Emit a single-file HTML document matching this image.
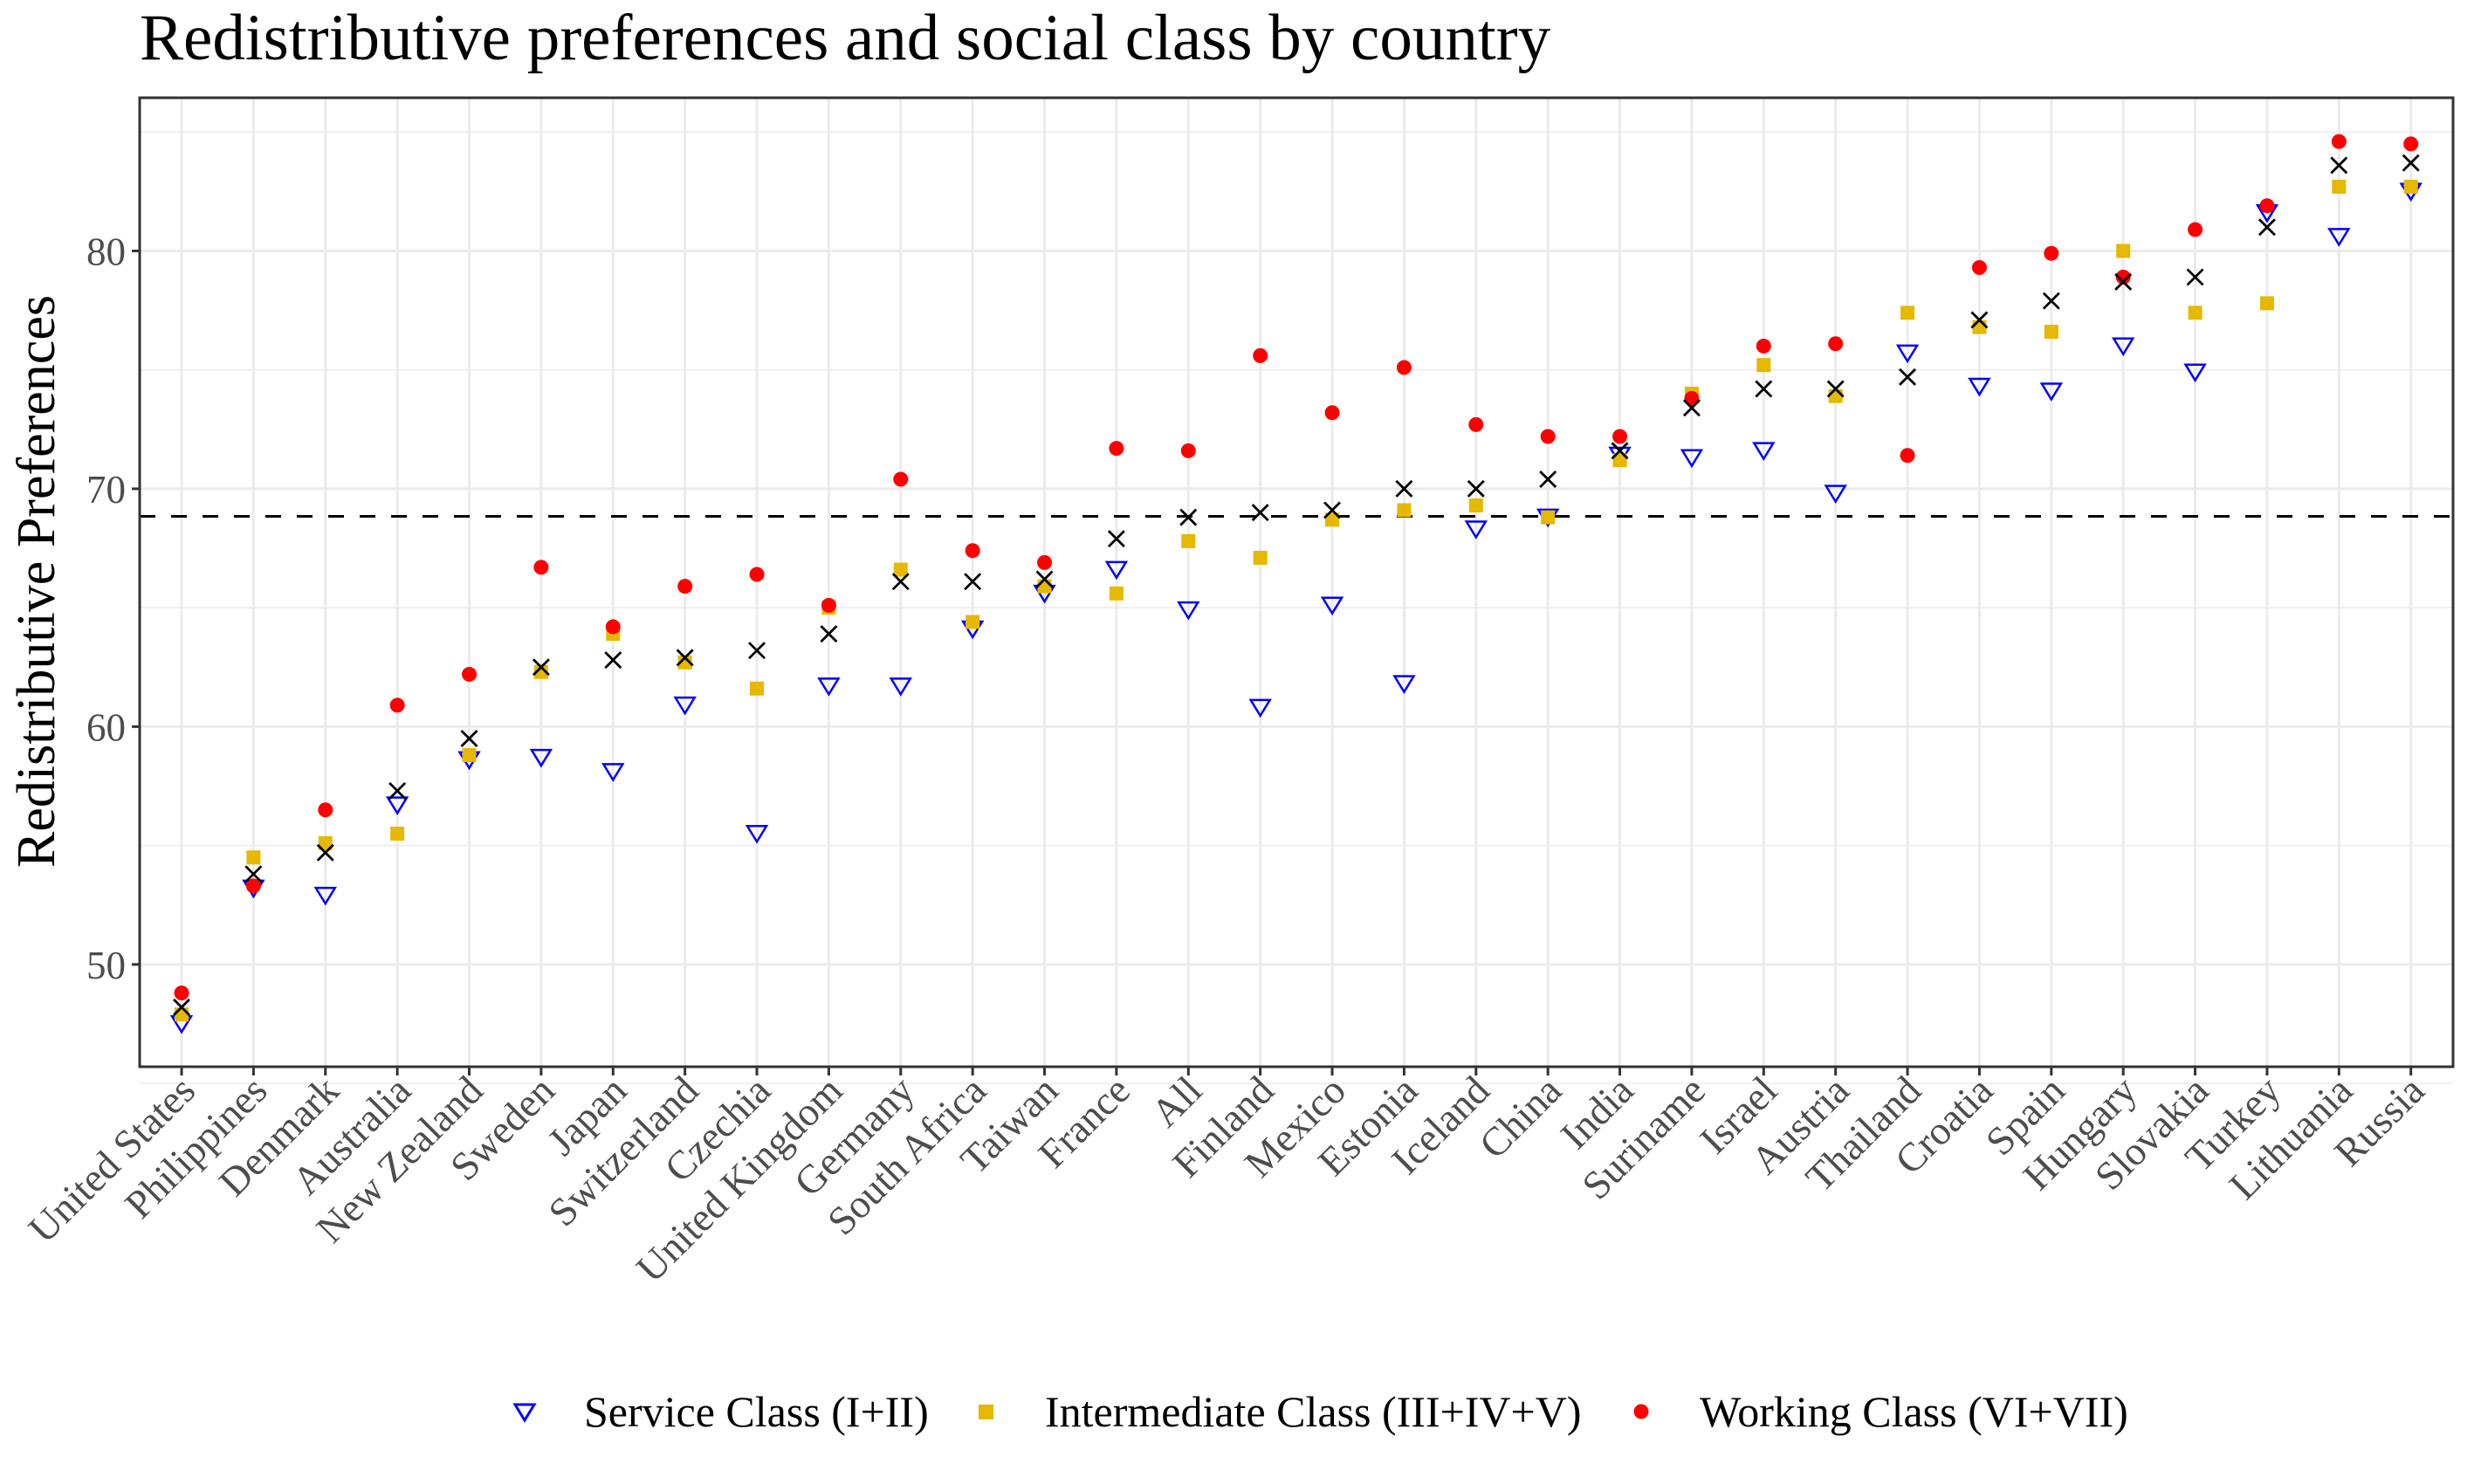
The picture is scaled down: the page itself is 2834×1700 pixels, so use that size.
<!DOCTYPE html>
<html><head><meta charset="utf-8"><style>
html,body{margin:0;padding:0;background:#fff;}
svg{display:block;font-family:"Liberation Serif",serif;}
</style></head><body>
<svg id="chart" width="2834" height="1700" viewBox="0 0 2834 1700">
<text x="160" y="68" font-size="75" fill="#000">Redistributive preferences and social class by country</text>
<g id="grid"></g>
<g id="marks"></g>
<g id="axes"></g>
<text transform="translate(62,666) rotate(-90)" text-anchor="middle" font-size="62" fill="#000">Redistributive Preferences</text>
<g>
  <g>
    <polygon points="590,1609 612,1609 601,1627" fill="none" stroke="#0000ff" stroke-width="3"/>
    <text x="669" y="1634" font-size="50">Service Class (I+II)</text>
  </g>
  <g>
    <rect x="1121" y="1609" width="17" height="17" fill="#e6b800"/>
    <text x="1197" y="1634" font-size="50">Intermediate Class (III+IV+V)</text>
  </g>
  <g>
    <circle cx="1880" cy="1617" r="8.5" fill="#ff0000"/>
    <text x="1947" y="1634" font-size="50">Working Class (VI+VII)</text>
  </g>
</g>
</svg>
<script>
const categories = ["United States","Philippines","Denmark","Australia","New Zealand","Sweden","Japan","Switzerland","Czechia","United Kingdom","Germany","South Africa","Taiwan","France","All","Finland","Mexico","Estonia","Iceland","China","India","Suriname","Israel","Austria","Thailand","Croatia","Spain","Hungary","Slovakia","Turkey","Lithuania","Russia"];
const serviceVals = [47.6,53.3,53.0,56.8,58.7,58.8,58.2,61.0,55.6,61.8,61.8,64.2,65.7,66.7,65.0,60.9,65.2,61.9,68.4,68.9,71.5,71.4,71.7,69.9,75.8,74.4,74.2,76.1,75.0,81.7,80.7,82.6];
const intermediateVals = [47.9,54.5,55.1,55.5,58.8,62.3,63.9,62.7,61.6,65.0,66.6,64.4,65.9,65.6,67.8,67.1,68.7,69.1,69.3,68.8,71.2,74.0,75.2,73.9,77.4,76.8,76.6,80.0,77.4,77.8,82.7,82.7];
const workingVals = [48.8,53.3,56.5,60.9,62.2,66.7,64.2,65.9,66.4,65.1,70.4,67.4,66.9,71.7,71.6,75.6,73.2,75.1,72.7,72.2,72.2,73.8,76.0,76.1,71.4,79.3,79.9,78.9,80.9,81.9,84.6,84.5];
const allVals = [48.2,53.8,54.7,57.3,59.5,62.5,62.8,62.9,63.2,63.9,66.1,66.1,66.2,67.9,68.8,69.0,69.1,70.0,70.0,70.4,71.6,73.4,74.2,74.2,74.7,77.1,77.9,78.7,78.9,81.0,83.6,83.7];
const overallMean = 68.84;
const yTicks = [50,60,70,80];
const yMinor = [45,55,65,75,85];

const NS="http://www.w3.org/2000/svg";
const L=160,R=2810,T=112,B=1222;
const yMin=45.7,yMax=86.44;
function y(v){return B-(v-yMin)/(yMax-yMin)*(B-T);}
const x0=208,x1=2761.7;
function x(i){return x0+i*(x1-x0)/(categories.length-1);}
function mk(tag,attrs,parent){const e=document.createElementNS(NS,tag);for(const k in attrs)e.setAttribute(k,attrs[k]);parent.appendChild(e);return e;}
const grid=document.getElementById('grid'),marks=document.getElementById('marks'),axes=document.getElementById('axes');
yMinor.forEach(v=>{const l=mk('line',{x1:L,x2:R,y1:y(v),y2:y(v),stroke:'#ebebeb','stroke-width':1.5},grid);

});
yTicks.forEach(v=>{const l=mk('line',{x1:L,x2:R,y1:y(v),y2:y(v),stroke:'#ebebeb','stroke-width':3},grid);


const t=mk('line',{x1:L-9,x2:L,y1:y(v),y2:y(v),stroke:'#333','stroke-width':3},axes);


const tx=mk('text',{x:L-16,y:y(v)+16,'text-anchor':'end','font-size':45,fill:'#4d4d4d'},axes);tx.textContent=v;

});
categories.forEach((c,i)=>{const l=mk('line',{x1:x(i),x2:x(i),y1:T,y2:B,stroke:'#ebebeb','stroke-width':3},grid);


const t=mk('line',{x1:x(i),x2:x(i),y1:B,y2:B+10,stroke:'#333','stroke-width':3},axes);


const tx=mk('text',{transform:`translate(${x(i)+18},${B+30}) rotate(-45)`,'text-anchor':'end','font-size':46,fill:'#4d4d4d'},axes);tx.textContent=c;

});
const dl=mk('line',{x1:L,x2:R,y1:y(overallMean),y2:y(overallMean),stroke:'#000','stroke-width':3,'stroke-dasharray':'18,18'},marks);


categories.forEach((c,i)=>{
 const cx=x(i);
 let vy=y(serviceVals[i]);
 const tri=mk('polygon',{points:`${cx-11},${vy-6} ${cx+11},${vy-6} ${cx},${vy+12}`,fill:'none',stroke:'#0000ff','stroke-width':2.5},marks);
 
 
 vy=y(intermediateVals[i]);
 const sq=mk('rect',{x:cx-8,y:vy-8,width:16,height:16,fill:'#e6b800'},marks);
 
 
 vy=y(workingVals[i]);
 const ci=mk('circle',{cx:cx,cy:vy,r:8.5,fill:'#ff0000'},marks);
 
 
 vy=y(allVals[i]);
 const xm=mk('path',{d:`M${cx-9},${vy-9}L${cx+9},${vy+9}M${cx+9},${vy-9}L${cx-9},${vy+9}`,stroke:'#000','stroke-width':2.8,fill:'none'},marks);
 
 
});
const fr=mk('rect',{x:L,y:T,width:R-L,height:B-T,fill:'none',stroke:'#333','stroke-width':3},axes);


</script>
</body></html>
